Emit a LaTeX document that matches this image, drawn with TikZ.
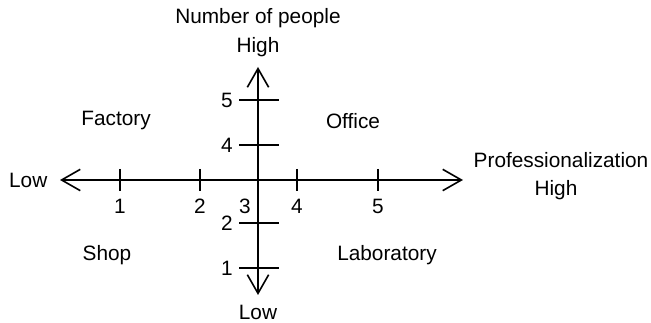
\documentclass[tikz,border=0pt]{standalone}
\usepackage{fontspec}
\setmainfont{Liberation Sans}
\usetikzlibrary{arrows.meta, positioning, calc}
\tikzset{
  axisline/.style={line width=1.2pt, {Straight Barb[length=14pt, width=16pt, line width=1.2pt]}-{Straight Barb[length=14pt, width=16pt, line width=1.2pt]}},
  tickmark/.style={line width=1.2pt},
  ticklbl/.style={inner sep=0pt},
  quadrant/.style={inner sep=0pt}
}

\begin{document}
\begin{tikzpicture}[x=0.75pt, y=-0.75pt, font=\fontsize{15.6}{18}\selectfont]
        \useasboundingbox (0,0) rectangle (651,323);

        % Axis ends
        \coordinate (xlow)  at (60,180);
        \coordinate (xhigh) at (463,180);
        \coordinate (ylow)  at (258,295);
        \coordinate (yhigh) at (258,67);

        % Axes
        \draw[axisline] (xlow) -- (xhigh);
        \draw[axisline] (ylow) -- (yhigh);

        % Ticks on professionalization axis
        \foreach \x/\n in {120/1, 200/2, 297/4, 378/5} {
          \draw[tickmark] (\x,169) -- (\x,191);
          \node[ticklbl] (px\n) at (\x,206) {\n};
        }
        \node[ticklbl] (px3) at (245,206) {3};

        % Ticks on number of people axis
        \foreach \y/\n in {100/5, 145/4, 223/2, 268/1} {
          \draw[tickmark] (239,\y) -- (279,\y);
          \node[ticklbl, anchor=east] (py\n) at (233,\y) {\n};
        }

        % Axis titles
        \node (ytitle)   at (258,18)  {Number of people};
        \node (yhightxt) at (258,47)  {High};
        \node (ylowtxt)  at (258,312) {Low};
        \node[anchor=east] (xlowtxt) at (52,180) {Low};
        \node (xtitle)   at (561,160) {Professionalization};
        \node (xhightxt) at (556,190) {High};

        % Quadrants
        \node[quadrant] (factory) at (116,121) {Factory};
        \node[quadrant] (office)  at (353,121) {Office};
        \node[quadrant] (shop)    at (107,255) {Shop};
        \node[quadrant] (lab)     at (387,255) {Laboratory};
    \end{tikzpicture}
\end{document}
